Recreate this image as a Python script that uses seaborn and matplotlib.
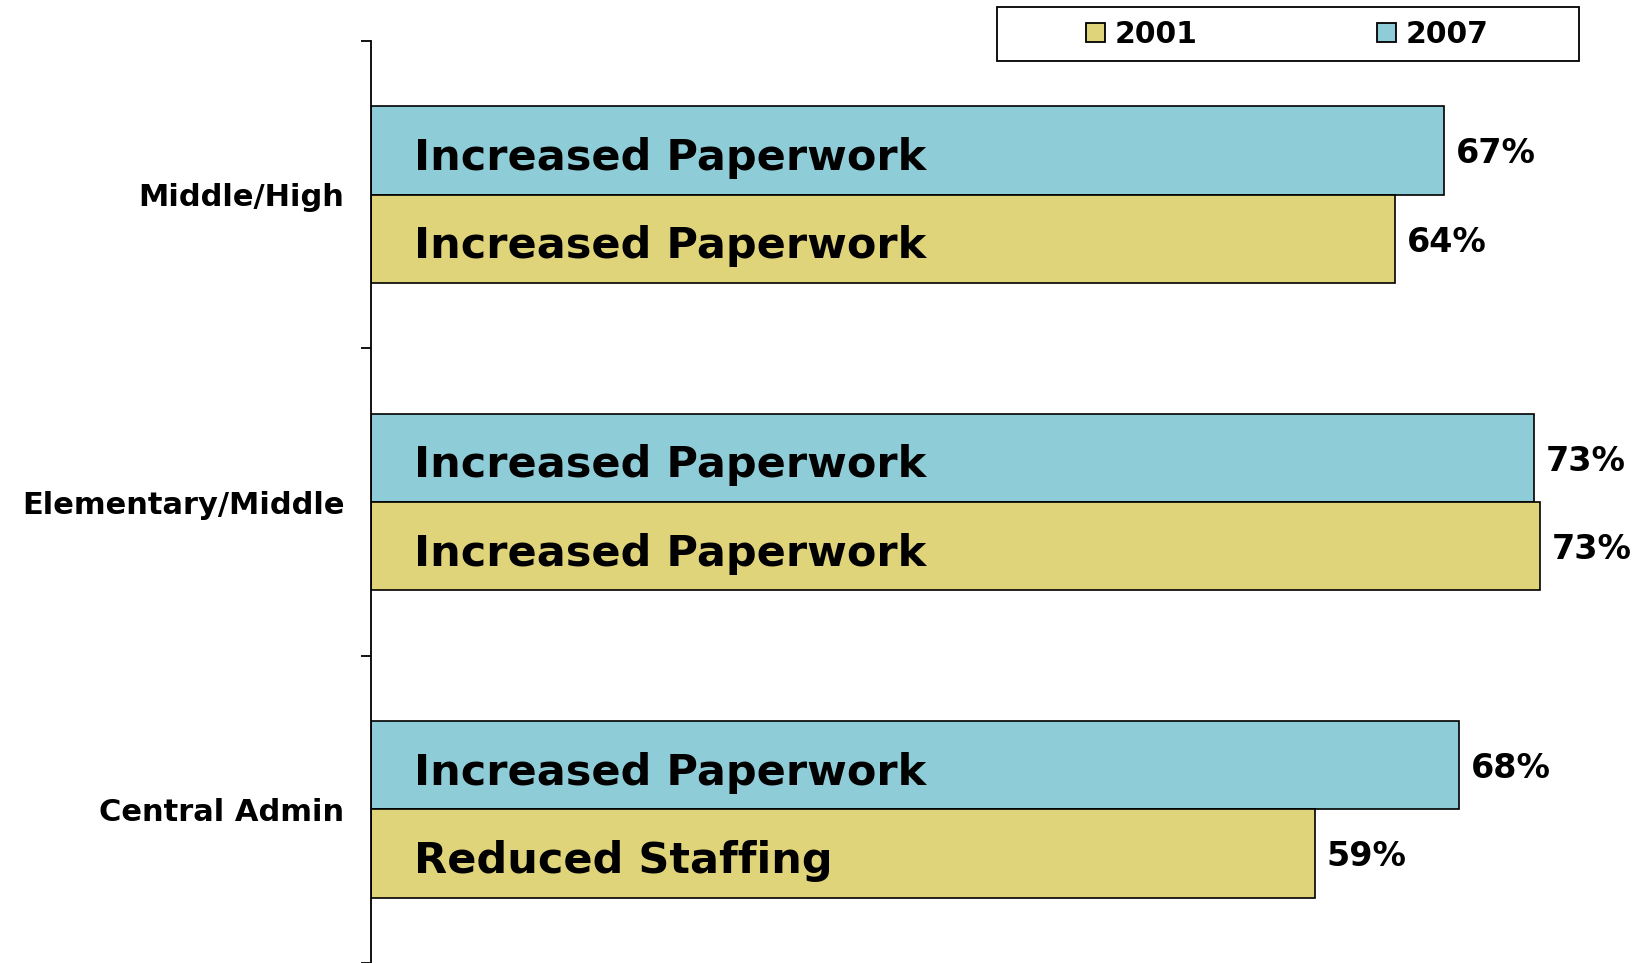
import matplotlib
matplotlib.use("Agg")
import matplotlib.pyplot as plt
from matplotlib.patches import Patch, Rectangle
import seaborn as sns
import pandas as pd

# ---- data ----
groups = ["Middle/High", "Elementary/Middle", "Central Admin"]
years = ["2001", "2007"]
values_2001 = [64.0, 73.1, 59.0]
values_2007 = [67.1, 72.7, 68.0]
pct_2001 = ["64%", "73%", "59%"]
pct_2007 = ["67%", "73%", "68%"]
reason_2001 = ["Increased Paperwork", "Increased Paperwork", "Reduced Staffing"]
reason_2007 = ["Increased Paperwork", "Increased Paperwork", "Increased Paperwork"]

colors = {"2001": "#E0D47A", "2007": "#8ECDD8"}

rows = []
for g, v in zip(groups, values_2001):
    rows.append({"group": g, "year": "2001", "value": v})
for g, v in zip(groups, values_2007):
    rows.append({"group": g, "year": "2007", "value": v})
df = pd.DataFrame(rows)

sns.set_style("white")
plt.rcParams["font.family"] = ["DejaVu Sans"]
plt.rcParams["font.weight"] = "bold"
plt.rcParams["text.color"] = "black"

fig = plt.figure(figsize=(16.49, 9.63), dpi=100)
ax = fig.add_axes([371 / 1649, 0.0, 1 - 371 / 1649, 1 - 41 / 963])

sns.barplot(data=df, y="group", x="value", hue="year", hue_order=["2007", "2001"],
            order=groups, palette=colors, width=0.575, edgecolor="black",
            linewidth=1.2, orient="h", legend=False, saturation=1, ax=ax)

ax.set_xlim(0, 79.9)
ax.set_ylim(2.5, -0.5)
ax.set_xlabel("")
ax.set_ylabel("")
ax.set_xticks([])
for s in ["top", "right", "bottom"]:
    ax.spines[s].set_visible(False)
ax.spines["left"].set_color("black")
ax.spines["left"].set_linewidth(1.3)

ax.set_yticks(range(len(groups)))
ax.set_yticklabels(groups, fontsize=22, fontweight="bold", color="black")
ax.tick_params(axis="y", which="major", length=0, pad=19, labelcolor="black")
ax.set_yticks([-0.5, 0.5, 1.5, 2.5], minor=True)
ax.tick_params(axis="y", which="minor", left=True, length=7, width=1.3,
               color="black", direction="out")

texts = {"2007": (reason_2007, pct_2007), "2001": (reason_2001, pct_2001)}
for cont, yr in zip(ax.containers, ["2007", "2001"]):
    reasons, pcts = texts[yr]
    for bar, r, p in zip(cont.patches, reasons, pcts):
        yc = bar.get_y() + bar.get_height() / 2
        ax.annotate(r, (2.7, yc), xytext=(0, -5.5), textcoords="offset points",
                    ha="left", va="center", fontsize=31, fontweight="bold", color="black")
        ax.annotate(p, (bar.get_width(), yc), xytext=(8.5, -2.5), textcoords="offset points",
                    ha="left", va="center", fontsize=24, fontweight="bold", color="black")

# legend
fig.add_artist(Rectangle((997 / 1649, 1 - 61 / 963), 582 / 1649, 54 / 963,
                         transform=fig.transFigure, facecolor="white", edgecolor="black",
                         linewidth=1.3))
handles = [Patch(facecolor=colors[y], edgecolor="black", linewidth=1.3, label=y) for y in years]
fig.legend(handles=handles, loc="center left", bbox_to_anchor=(1086 / 1649, 1 - 34.5 / 963),
           ncol=2, frameon=False,
           prop={"family": "DejaVu Sans", "weight": "bold", "size": 21.5},
           handlelength=0.63, handleheight=0.63, handletextpad=0.33, columnspacing=6.0,
           borderpad=0, borderaxespad=0)

fig.savefig("out.png", dpi=100)
